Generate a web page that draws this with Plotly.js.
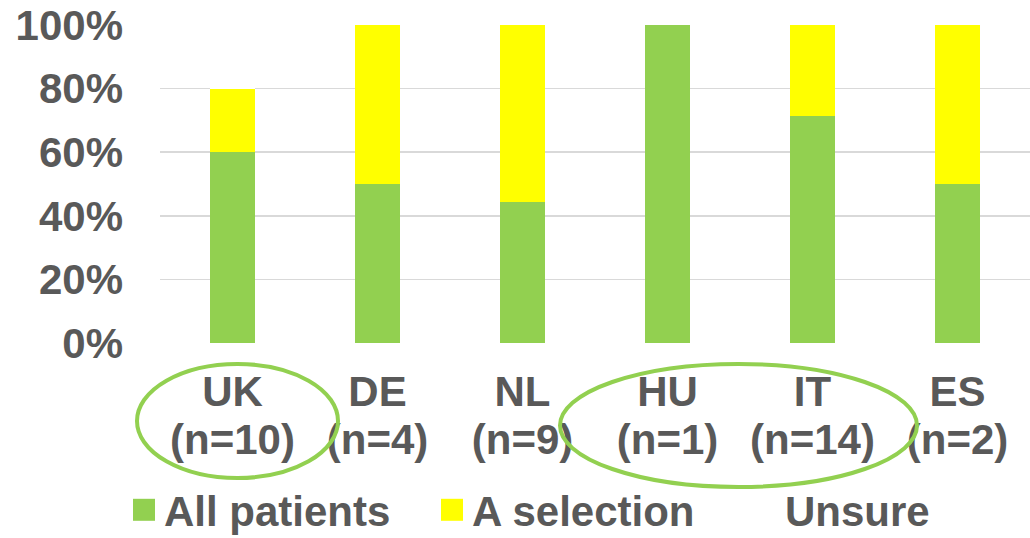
<!DOCTYPE html>
<html>
<head>
<meta charset="utf-8">
<script src="https://cdn.plot.ly/plotly-3.0.1.min.js"></script>
<style>
html,body{margin:0;padding:0;background:#fff;}
#chart{width:1030px;height:538px;}
#chart .legendpoints path{d:path("M11,11H-11V-11H11Z");}
</style>
</head>
<body>
<div id="chart"></div>
<script>
var countries = ["UK", "DE", "NL", "HU", "IT", "ES"];
var sampleSizes = [10, 4, 9, 1, 14, 2];
var allPatients = [0.60, 0.50, 0.444, 1.00, 0.714, 0.50];
var aSelection = [0.20, 0.50, 0.556, 0.00, 0.286, 0.50];
var unsure = [0.20, 0.00, 0.00, 0.00, 0.00, 0.00];
var seriesNames = ["All patients", "A selection", "Unsure"];
var yTickVals = [0, 0.2, 0.4, 0.6, 0.8, 1.0];

var nLabels = sampleSizes.map(function(n){ return "(n=" + n + ")"; });

var txtColor = "#595959";
var fontFam = "Liberation Sans, Arial, sans-serif";
var fs = 42;

var traces = [
  {type:"bar", name:seriesNames[0], x:countries, y:allPatients, marker:{color:"#92d050"}, legend:"legend"},
  {type:"bar", name:seriesNames[1], x:countries, y:aSelection, marker:{color:"#ffff00"}, legend:"legend2"},
  {type:"bar", name:seriesNames[2], x:countries, y:unsure, marker:{color:"#ffffff"}, legend:"legend3"},
  {type:"bar", x:countries, y:countries.map(function(){return null;}), xaxis:"x2", showlegend:false}
];
traces.forEach(function(t){ t.hoverinfo = "none"; });

var L = 160, R = 0, T = 25, B = 195;
var W = 1030, H = 538;
var pw = W - L - R, ph = H - T - B;
function px(x){ return (x - L) / pw; }
function py(y){ return (H - B - y) / ph; }

var tf = {family: fontFam, size: fs, color: txtColor, weight: "bold"};

function legendAt(xpx){
  return {
    orientation: "h", xref: "container", yref: "container",
    x: xpx / W, xanchor: "left", y: (H - 476) / H, yanchor: "top",
    font: tf, bgcolor: "rgba(0,0,0,0)"
  };
}

var layout = {
  width: W, height: H,
  margin: {l:L, r:R, t:T, b:B, pad:0},
  paper_bgcolor: "#fff", plot_bgcolor: "#fff",
  barmode: "stack",
  bargap: 0.683,
  showlegend: true,
  font: tf,
  xaxis: {
    type: "category", categoryarray: countries, range: [-0.5, 5.5],
    tickvals: countries, ticktext: countries,
    showgrid: false, zeroline: false, showline: false, ticks: "",
    automargin: false, ticklabelstandoff: 20,
    tickfont: tf
  },
  xaxis2: {
    type: "category", categoryarray: countries, range: [-0.5, 5.5],
    overlaying: "x", side: "bottom", anchor: "y",
    tickvals: countries, ticktext: nLabels,
    showgrid: false, zeroline: false, showline: false, ticks: "",
    automargin: false, ticklabelstandoff: 68,
    tickfont: tf
  },
  yaxis: {
    range: [0, 1], tickvals: yTickVals, tickformat: ".0%",
    showgrid: true, gridcolor: "#d9d9d9", gridwidth: 1.5,
    zeroline: false, showline: false, ticks: "",
    automargin: false, ticklabelstandoff: 36,
    tickfont: tf
  },
  legend: legendAt(124),
  legend2: legendAt(432),
  legend3: legendAt(745),
  shapes: [
    {type:"circle", xref:"paper", yref:"paper", x0:px(137), x1:px(338), y0:py(478), y1:py(364),
     line:{color:"#92d050", width:4}, fillcolor:"rgba(0,0,0,0)"},
    {type:"circle", xref:"paper", yref:"paper", x0:px(560), x1:px(917), y0:py(487), y1:py(364),
     line:{color:"#92d050", width:4}, fillcolor:"rgba(0,0,0,0)"}
  ]
};

Plotly.newPlot("chart", traces, layout, {displayModeBar:false, staticPlot:true});
</script>
</body>
</html>
